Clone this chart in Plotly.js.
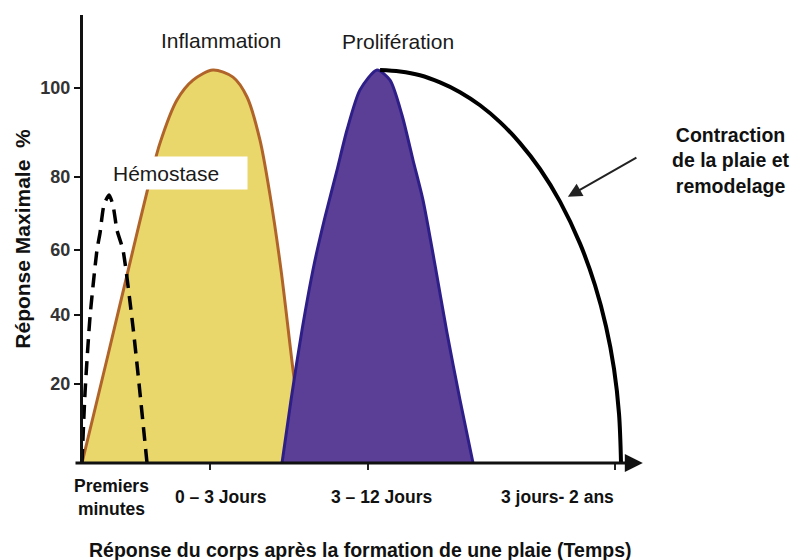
<!DOCTYPE html>
<html>
<head>
<meta charset="utf-8">
<script src="https://cdn.plot.ly/plotly-3.0.1.min.js"></script>
<style>html,body{margin:0;padding:0;background:#fff;}#chart{width:795px;height:560px;}</style>
</head>
<body>
<div id="chart"></div>
<script>
// ---- data (time in arbitrary units along the x axis, response in %) ----
var hemostaseX = [0.18, 0.72, 1.61, 2.86, 3.40, 4.11, 5.01, 5.72, 6.44, 7.51, 9.30, 10.55, 11.81];
var hemostaseY = [0, 18.7, 38.9, 56.8, 61.3, 68.8, 71.5, 68.8, 62.1, 56.8, 36.3, 18.7, 0];

var inflammationX = [0.18, 4.83, 9.30, 11.81, 14.13, 17.17, 20.04, 23.61, 27.19, 29.70, 32.02, 33.81, 35.78, 37.93, 40.07];
var inflammationY = [0, 28.8, 56.8, 72.3, 85.3, 96.8, 102.1, 104.8, 102.9, 97.6, 86.1, 71.5, 51.5, 24.8, 0];

var proliferationX = [35.96, 37.57, 39.54, 41.68, 43.65, 45.80, 47.58, 49.91, 52.95, 55.28, 57.42, 59.39, 61.18, 63.33, 65.47, 67.80, 70.13];
var proliferationY = [0, 16.8, 35.5, 52.8, 65.6, 78.1, 88.8, 99.5, 104.8, 102.1, 92.8, 80.8, 70.1, 52.8, 34.7, 16.8, 0];

var remodelageX = [53.49, 57.07, 60.64, 64.22, 67.80, 71.38, 74.96, 78.53, 82.11, 85.69, 89.27, 91.95, 93.92, 95.35, 96.24, 96.60];
var remodelageY = [104.8, 104.4, 103.4, 101.5, 98.9, 95.4, 90.9, 85.3, 78.4, 69.7, 58.5, 47.4, 36.4, 25.1, 13.2, 0];

var yTickText = ['20', '40', '60', '80', '100'];
var yTickPos = [21.1, 39.5, 56.8, 76.3, 100];

var xTickMarks = [23.1, 51.3, 95.5];
var xLabels = ['Premiers<br>minutes', '0 \u2013 3 Jours', '3 \u2013 12 Jours', '3 jours- 2 ans'];
var xLabelPos = [5.4, 25.0, 53.8, 85.2];

var phaseLabels = ['Inflammation', 'Prolif\u00e9ration'];
var phaseLabelX = [25.0, 56.7];
var phaseLabelY = [112.8, 112.3];

// ---- drawing ----
var FONT = 'Liberation Sans, Arial, sans-serif';

var traces = [
  {x: inflammationX, y: inflammationY, type: 'scatter', mode: 'lines', fill: 'toself',
   fillcolor: '#e9d76c', line: {color: '#b0642a', width: 3, shape: 'spline', smoothing: 0.8},
   hoverinfo: 'skip', showlegend: false},
  {x: proliferationX, y: proliferationY, type: 'scatter', mode: 'lines', fill: 'toself',
   fillcolor: '#5b3f97', line: {color: '#2e1e88', width: 3, shape: 'spline', smoothing: 0.7},
   hoverinfo: 'skip', showlegend: false},
  {x: remodelageX, y: remodelageY, type: 'scatter', mode: 'lines',
   line: {color: '#000', width: 4, shape: 'spline', smoothing: 1},
   hoverinfo: 'skip', showlegend: false},
  {x: hemostaseX, y: hemostaseY, type: 'scatter', mode: 'lines',
   line: {color: '#000', width: 3.5, dash: '14px,8px', shape: 'spline', smoothing: 0.6},
   hoverinfo: 'skip', showlegend: false}
];

var annotations = [];
// x axis with arrow
annotations.push({x: 100.5, y: 0, ax: -1.25, ay: 0, xref: 'x', yref: 'y', axref: 'x', ayref: 'y',
  text: '', showarrow: true, arrowhead: 2, arrowsize: 1.2, arrowwidth: 3, arrowcolor: '#111'});
// x category labels
for (var i = 0; i < xLabels.length; i++) {
  annotations.push({x: xLabelPos[i], y: -0.076, xref: 'x', yref: 'paper', xanchor: 'center', yanchor: 'middle',
    text: xLabels[i], showarrow: false, align: 'center',
    font: {family: FONT, size: 17.5, color: '#111', weight: 700}});
}
// phase labels
for (var j = 0; j < phaseLabels.length; j++) {
  annotations.push({x: phaseLabelX[j], y: phaseLabelY[j], xref: 'x', yref: 'y', text: phaseLabels[j],
    xanchor: 'center', yanchor: 'middle',
    showarrow: false, font: {family: FONT, size: 21, color: '#1a1a1a'}});
}
// Hémostase label with white box
annotations.push({x: 17.6, y: 77.3, xref: 'x', yref: 'y', text: 'H\u00e9mostase', showarrow: false,
  xanchor: 'center', yanchor: 'middle',
  align: 'left', width: 132, height: 28, borderpad: 2, bgcolor: '#ffffff',
  font: {family: FONT, size: 21, color: '#1a1a1a'}});
// Contraction label
annotations.push({x: 1.148, y: 0.676, xref: 'paper', yref: 'paper', xanchor: 'center', yanchor: 'middle',
  showarrow: false, align: 'center',
  text: 'Contraction<br>de la plaie et<br>remodelage',
  font: {family: FONT, size: 19.5, color: '#111', weight: 700}});
// arrow to remodelage curve
annotations.push({x: 87.1, y: 71.0, xref: 'x', yref: 'y', ax: 70, ay: -40, text: '', showarrow: true,
  arrowhead: 2, arrowsize: 1.4, arrowwidth: 2, arrowcolor: '#222'});
// x axis title
annotations.push({x: 0.5, y: -0.195, xref: 'paper', yref: 'paper', xanchor: 'center', yanchor: 'middle',
  showarrow: false, text: 'R\u00e9ponse du corps apr\u00e8s la formation de une plaie (Temps)',
  font: {family: FONT, size: 19.5, color: '#111', weight: 700}});

var layout = {
  width: 795, height: 560,
  margin: {l: 74, r: 149, t: 15, b: 97, pad: 0},
  paper_bgcolor: '#ffffff', plot_bgcolor: '#ffffff',
  showlegend: false,
  font: {family: FONT},
  xaxis: {range: [-1.25, 101.07], showline: false, zeroline: false, showgrid: false,
    ticks: 'outside', tickvals: xTickMarks, ticktext: ['', '', ''], ticklen: 6, tickwidth: 2, tickcolor: '#222',
    showticklabels: false, fixedrange: true},
  yaxis: {range: [0, 119.47], anchor: 'free', position: 0.01224, showline: true, linewidth: 3, linecolor: '#111',
    zeroline: false, showgrid: false, ticks: 'outside', ticklen: 6, tickwidth: 2, tickcolor: '#111',
    tickvals: yTickPos, ticktext: yTickText,
    tickfont: {family: FONT, size: 18, color: '#333', weight: 700},
    title: {text: 'R\u00e9ponse Maximale\u00a0\u00a0%', standoff: 3,
      font: {family: FONT, size: 21, color: '#111', weight: 700}},
    fixedrange: true},
  annotations: annotations
};

Plotly.newPlot('chart', traces, layout, {staticPlot: true, displayModeBar: false});
</script>
</body>
</html>
